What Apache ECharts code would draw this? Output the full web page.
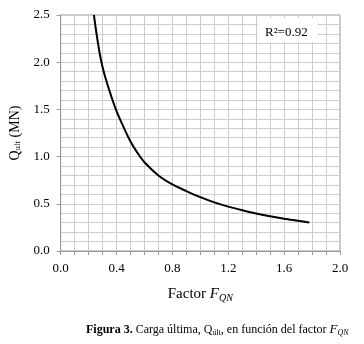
<!DOCTYPE html>
<html>
<head>
<meta charset="utf-8">
<script src="https://cdn.jsdelivr.net/npm/echarts@6/dist/echarts.min.js"></script>
<style>
 html, body { margin: 0; padding: 0; background: #fff; }
 #chart { width: 364px; height: 344px; }
</style>
</head>
<body>
<div id="chart"></div>
<script>
// valores
const factorFQN = [0.238, 0.26, 0.285, 0.31, 0.351, 0.398, 0.445, 0.5, 0.55, 0.6, 0.7, 0.8, 0.9, 1.0, 1.1, 1.2, 1.3, 1.4, 1.5, 1.6, 1.7, 1.78]
const cargaUlt = [2.5, 2.27, 2.05, 1.89, 1.69, 1.49, 1.33, 1.16, 1.04, 0.94, 0.80, 0.705, 0.635, 0.57, 0.515, 0.47, 0.432, 0.398, 0.368, 0.342, 0.32, 0.302]
const xTicks = [0, 0.4, 0.8, 1.2, 1.6, 2.0]
const yTicks = [0, 0.5, 1.0, 1.5, 2.0, 2.5]
const r2Text = 'R²=0.92'

const font = '"Liberation Serif", "DejaVu Serif", serif'
const gridColor = '#cccccc'

const chart = echarts.init(document.getElementById('chart'))
chart.setOption({
 animation: false,
 textStyle: { fontFamily: font },
 grid: {
  left: 57, top: 15, right: 24, bottom: 93,
  show: true, borderColor: '#999', borderWidth: 1
 },
 xAxis: {
  type: 'value',
  min: xTicks[0],
  max: xTicks[xTicks.length - 1],
  interval: 0.4,
  axisLine: { lineStyle: { color: '#999' } },
  axisTick: { show: true, length: 4, lineStyle: { color: '#999' } },
  minorTick: { show: true, splitNumber: 4, length: 4, lineStyle: { color: '#999' } },
  splitLine: { lineStyle: { color: gridColor } },
  minorSplitLine: { show: true, lineStyle: { color: gridColor } },
  axisLabel: {
   color: '#000', fontSize: 13, fontFamily: font, margin: 11,
   formatter: v => v.toFixed(1)
  },
  name: 'Factor {it|F}{sub|QN}',
  nameLocation: 'middle',
  nameGap: 34,
  nameTextStyle: {
   color: '#000', fontSize: 15, fontFamily: font,
   rich: {
    it: { fontStyle: 'italic', fontSize: 15, fontFamily: font, color: '#000' },
    sub: { fontStyle: 'italic', fontSize: 10, fontFamily: font, color: '#000', verticalAlign: 'bottom', padding: [8, 0, 0, 0] }
   }
  }
 },
 yAxis: {
  type: 'value',
  min: yTicks[0],
  max: yTicks[yTicks.length - 1],
  interval: 0.5,
  axisLine: { show: true, lineStyle: { color: '#999' } },
  axisTick: { show: true, length: 4, lineStyle: { color: '#999' } },
  minorTick: { show: true, splitNumber: 5, length: 0 },
  splitLine: { lineStyle: { color: gridColor } },
  minorSplitLine: { show: true, lineStyle: { color: gridColor } },
  axisLabel: {
   color: '#000', fontSize: 13, fontFamily: font, margin: 11,
   formatter: v => v.toFixed(1)
  },
  name: 'Q{sub|ult} (MN)',
  nameLocation: 'middle',
  nameGap: 31,
  nameRotate: 90,
  nameTextStyle: {
   color: '#000', fontSize: 14, fontFamily: font,
   rich: {
    sub: { fontSize: 9, fontFamily: font, color: '#000', verticalAlign: 'bottom', padding: [6, 0, 0, 0] }
   }
  }
 },
 graphic: [
  {
   type: 'rect',
   shape: { x: 258, y: 18, width: 60, height: 24 },
   style: { fill: '#fff' },
   z: 100
  },
  {
   type: 'text',
   left: 265, top: 26,
   style: { text: r2Text, font: '13px ' + font, fill: '#000' },
   z: 101
  },
  {
   type: 'text',
   left: 86, top: 323,
   style: {
    text: '{b|Figura 3.} Carga última, Q{sub|últ}, en función del factor {it|F}{isub|QN}',
    font: '12px ' + font,
    fill: '#000',
    rich: {
     b: { fontWeight: 'bold', fontSize: 12, fontFamily: font },
     sub: { fontSize: 8, fontFamily: font, verticalAlign: 'bottom', padding: [6, 0, 0, 0] },
     it: { fontStyle: 'italic', fontSize: 13, fontFamily: font },
     isub: { fontStyle: 'italic', fontSize: 8, fontFamily: font, verticalAlign: 'bottom', padding: [6, 0, 0, 0] }
    }
   }
  }
 ],
 series: [{
  type: 'line',
  data: factorFQN.map((x, i) => [x, cargaUlt[i]]),
  showSymbol: false,
  smooth: 0.3,
  clip: true,
  lineStyle: { color: '#000', width: 2 },
  z: 5
 }]
})
</script>
</body>
</html>
